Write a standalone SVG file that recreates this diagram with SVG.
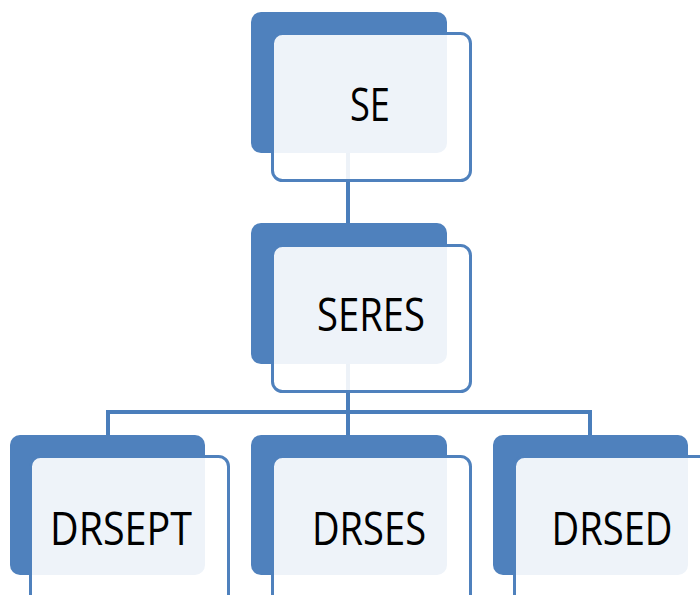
<svg xmlns="http://www.w3.org/2000/svg" width="700" height="595" viewBox="0 0 700 595">
<style>
.back{fill:#4F81BD;}
.front{fill:#FFFFFF;fill-opacity:0.9;stroke:#4F81BD;stroke-width:3;}
.lbl{font-family:"Open Sans","Liberation Sans",sans-serif;font-size:46px;fill:#000;text-anchor:middle;}
.conn{stroke:#4A7EBB;stroke-width:4;fill:none;}
</style>
<rect width="700" height="595" fill="#FFFFFF"/>
<g id="connectors">
<line class="conn" x1="348" y1="150" x2="348" y2="226"/>
<line class="conn" x1="348" y1="360" x2="348" y2="412"/>
<polyline class="conn" points="108,437 108,412 590,412 590,437"/>
<line class="conn" x1="348" y1="412" x2="348" y2="437"/>
</g>
<g id="node-se">
<rect class="back" x="251" y="12" width="196" height="141" rx="10"/>
<rect class="front" x="272.5" y="33.5" width="198" height="147" rx="10"/>
<text class="lbl" x="370" y="121" textLength="40" lengthAdjust="spacingAndGlyphs">SE</text>
</g>
<g id="node-seres">
<rect class="back" x="251" y="223" width="196" height="141" rx="10"/>
<rect class="front" x="272.5" y="245.5" width="198" height="146" rx="10"/>
<text class="lbl" x="371" y="331" textLength="108" lengthAdjust="spacingAndGlyphs">SERES</text>
</g>
<g id="node-drsept">
<rect class="back" x="10" y="435" width="195" height="140" rx="10"/>
<rect class="front" x="30.5" y="456.5" width="198" height="150" rx="10"/>
<text class="lbl" x="121" y="545" textLength="142" lengthAdjust="spacingAndGlyphs">DRSEPT</text>
</g>
<g id="node-drses">
<rect class="back" x="251" y="435" width="196" height="140" rx="10"/>
<rect class="front" x="272.5" y="456.5" width="198" height="150" rx="10"/>
<text class="lbl" x="369" y="545" textLength="114" lengthAdjust="spacingAndGlyphs">DRSES</text>
</g>
<g id="node-drsed">
<rect class="back" x="493" y="435" width="195" height="140" rx="10"/>
<rect class="front" x="514.5" y="456.5" width="198" height="150" rx="10"/>
<text class="lbl" x="612" y="545" textLength="121" lengthAdjust="spacingAndGlyphs">DRSED</text>
</g>
</svg>
